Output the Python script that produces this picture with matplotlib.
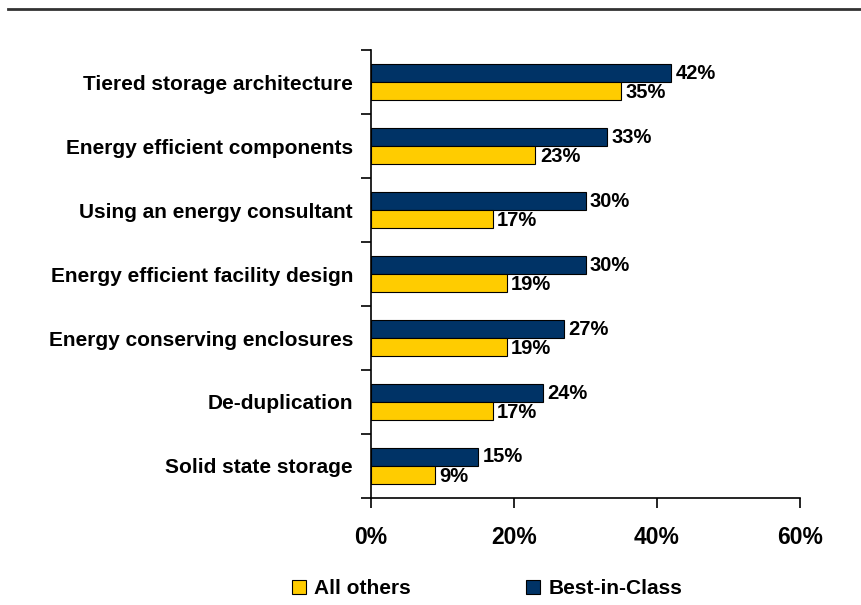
import matplotlib.pyplot as plt
import numpy as np

plt.rcParams['font.family'] = ['Liberation Sans', 'DejaVu Sans']
plt.rcParams['font.weight'] = 'bold'

categories = ["Tiered storage architecture", "Energy efficient components",
              "Using an energy consultant", "Energy efficient facility design",
              "Energy conserving enclosures", "De-duplication", "Solid state storage"]
best_in_class = [42, 33, 30, 30, 27, 24, 15]
all_others = [35, 23, 17, 19, 19, 17, 9]
xticks = [0, 20, 40, 60]

navy = "#003366"
gold = "#FFCC00"

fig = plt.figure(figsize=(8.62, 6.05), dpi=100)
ax = fig.add_axes([0.4304, 0.177, 0.4977, 0.740])

y = np.arange(len(categories))
h = 0.28
ax.barh(y - h / 2, best_in_class, height=h, color=navy, edgecolor="black", linewidth=0.8,
        label="Best-in-Class")
ax.barh(y + h / 2, all_others, height=h, color=gold, edgecolor="black", linewidth=0.8,
        label="All others")

for yi, v in zip(y, best_in_class):
    ax.text(v + 0.6, yi - h / 2, f"{v}%", va="center", ha="left", fontsize=14.5)
for yi, v in zip(y, all_others):
    ax.text(v + 0.6, yi + h / 2 + 0.02, f"{v}%", va="center", ha="left", fontsize=14.5)

ax.set_ylim(len(categories) - 0.5, -0.5)
ax.set_xlim(0, 60)
ax.set_xticks(xticks)
ax.set_xticklabels([f"{t}%" for t in xticks], fontsize=16.5)
ax.set_yticks(np.arange(len(categories) + 1) - 0.5, minor=False)
ax.set_yticklabels([])
ax.set_yticks(y, minor=True)
ax.set_yticklabels(categories, minor=True, fontsize=15)
ax.tick_params(axis="y", which="minor", length=0, pad=13)
ax.tick_params(axis="y", which="major", length=7, width=1.2, direction="out")
ax.tick_params(axis="x", length=7, width=1.2, direction="out", pad=13)

for s in ["top", "right"]:
    ax.spines[s].set_visible(False)
ax.spines["left"].set_linewidth(1.2)
ax.spines["bottom"].set_linewidth(1.2)

handles, labels = ax.get_legend_handles_labels()
fig.legend(handles[::-1], labels[::-1], loc="center", bbox_to_anchor=(0.565, 0.027),
           ncol=2, frameon=False, fontsize=15, handlelength=0.7, handleheight=0.7,
           columnspacing=5.5, handletextpad=0.4)

fig.add_artist(plt.Line2D([0.009, 0.998], [0.985, 0.985], color="#333333", linewidth=2))

fig.savefig("out.png", dpi=100)
